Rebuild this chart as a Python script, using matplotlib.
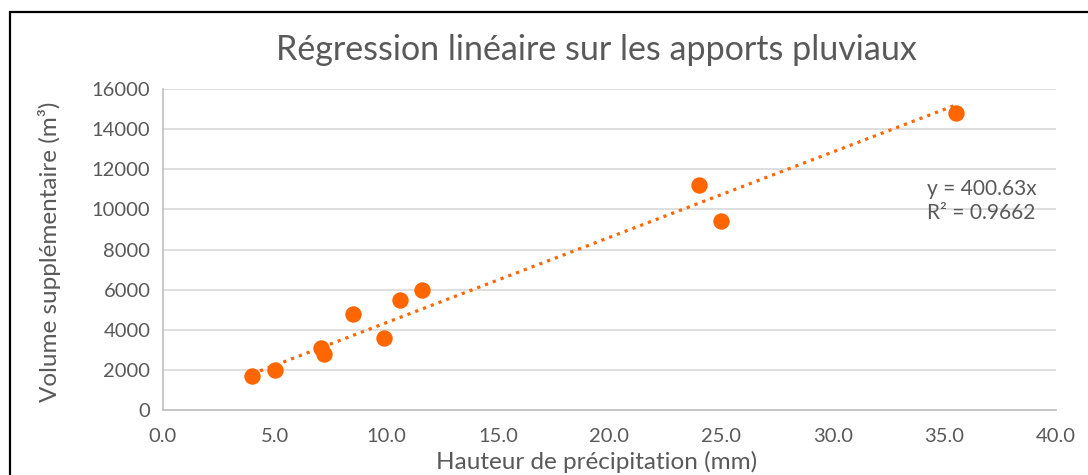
import numpy as np
import matplotlib.pyplot as plt
from matplotlib.patches import Rectangle

plt.rcParams['font.family'] = ['Lato', 'DejaVu Sans']

# données
hauteur = [4.0, 5.0, 7.1, 7.2, 8.5, 9.9, 10.6, 11.6, 24.0, 25.0, 35.5]
volume = [1700, 2000, 3100, 2800, 4800, 3600, 5500, 6000, 11200, 9400, 14800]
# extrémités de la courbe de tendance
tendance_x = [4.0, 35.5]
tendance_y = [1800, 15200]
equation = 'y = 400.63x'
r2 = 'R² = 0.9662'
x_ticks = [0, 5, 10, 15, 20, 25, 30, 35, 40]
y_ticks = [0, 2000, 4000, 6000, 8000, 10000, 12000, 14000, 16000]

orange = '#FF6600'
gris = '#595959'

fig = plt.figure(figsize=(10.88, 4.75), dpi=100)
ax = fig.add_axes([0.1498, 0.1368, 0.8208, 0.6758])

# cadre noir du graphique
fig.patches.append(Rectangle((10 / 1088, -0.1), 1.2, 1.1 - 12 / 475,
                             transform=fig.transFigure, fill=False,
                             edgecolor='black', linewidth=1.6))

x = np.array(hauteur)
y = np.array(volume)

ax.plot(tendance_x, tendance_y, color=orange, linestyle=(0, (1, 1.6)),
        linewidth=2.3, zorder=2)
ax.scatter(x, y, s=140, color=orange, zorder=3, linewidths=0)

ax.set_xlim(0, 40)
ax.set_ylim(0, 16000)
ax.set_xticks(x_ticks)
ax.set_xticklabels([f'{v:.1f}' for v in x_ticks])
ax.set_yticks(y_ticks)
ax.tick_params(length=0, labelsize=14.5, colors=gris)
ax.tick_params(axis='x', pad=13)
ax.tick_params(axis='y', pad=9)
ax.grid(axis='y', color='#D9D9D9', linewidth=1.2)
ax.set_axisbelow(True)
for s in ['top', 'right']:
    ax.spines[s].set_visible(False)
for s in ['left', 'bottom']:
    ax.spines[s].set_color('#BFBFBF')
    ax.spines[s].set_linewidth(1.2)

fig.text(596 / 1088, 1 - 50 / 475, 'Régression linéaire sur les apports pluviaux',
         fontsize=24.5, color=gris, ha='center', va='center')
fig.text(50 / 1088, 0.5 * (1 - 95 / 475 + 1 - 408 / 475),
         'Volume supplémentaire (m³)', fontsize=17.5, color=gris,
         ha='center', va='center', rotation=90)
fig.text(597 / 1088, 1 - 462 / 475, 'Hauteur de précipitation (mm)',
         fontsize=17.5, color=gris, ha='center', va='center')

ax.text(0.855, 0.6505, equation + '\n' + r2, transform=ax.transAxes,
        fontsize=15, color=gris, va='center', ha='left', linespacing=1.25)

fig.savefig('out.png', dpi=100)
